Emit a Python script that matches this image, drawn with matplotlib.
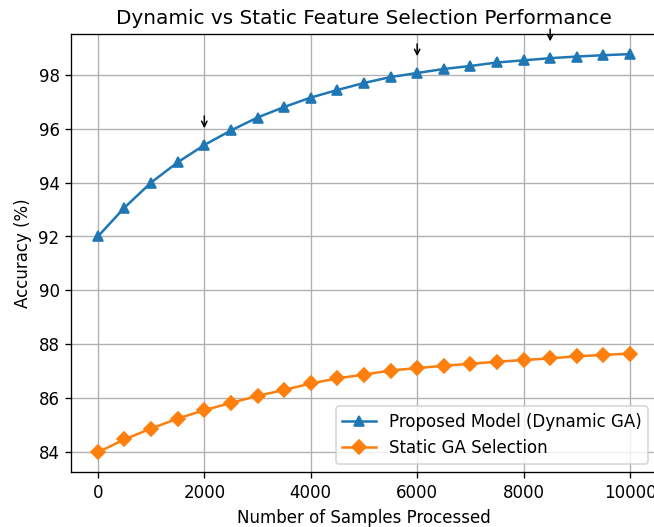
import numpy as np
import matplotlib
matplotlib.use("Agg")
import matplotlib.pyplot as plt

# Campioni processati
samples = np.arange(0, 10001, 500)

# Accuratezza (%)
dynamic_acc = [92.0, 93.07, 94.0, 94.75, 95.39, 95.93, 96.41, 96.80, 97.15, 97.43, 97.69,
               97.91, 98.06, 98.21, 98.32, 98.45, 98.53, 98.61, 98.67, 98.72, 98.76]
static_acc = [84.0, 84.48, 84.88, 85.25, 85.56, 85.83, 86.09, 86.31, 86.55, 86.74, 86.88,
              87.03, 87.12, 87.21, 87.28, 87.36, 87.42, 87.48, 87.56, 87.61, 87.66]

# Punti segnalati con le frecce
arrow_points = [2000, 6000, 8500]

fig, ax = plt.subplots(figsize=(5.45, 4.392), dpi=120)
ax.plot(samples, dynamic_acc, marker='^', label="Proposed Model (Dynamic GA)")
ax.plot(samples, static_acc, marker='D', label="Static GA Selection")

for xp in arrow_points:
    yp = dynamic_acc[list(samples).index(xp)]
    ax.annotate('', xy=(xp, yp + 0.5), xytext=(xp, yp + 1.2),
                arrowprops=dict(arrowstyle='->', color='black', lw=0.9, mutation_scale=8),
                annotation_clip=False)

ax.set_title("Dynamic vs Static Feature Selection Performance")
ax.set_xlabel("Number of Samples Processed")
ax.set_ylabel("Accuracy (%)")
ax.grid(True)
ax.legend(loc='lower right')

plt.subplots_adjust(left=0.109, right=1.004, top=0.935, bottom=0.104)
plt.savefig("out.png")
